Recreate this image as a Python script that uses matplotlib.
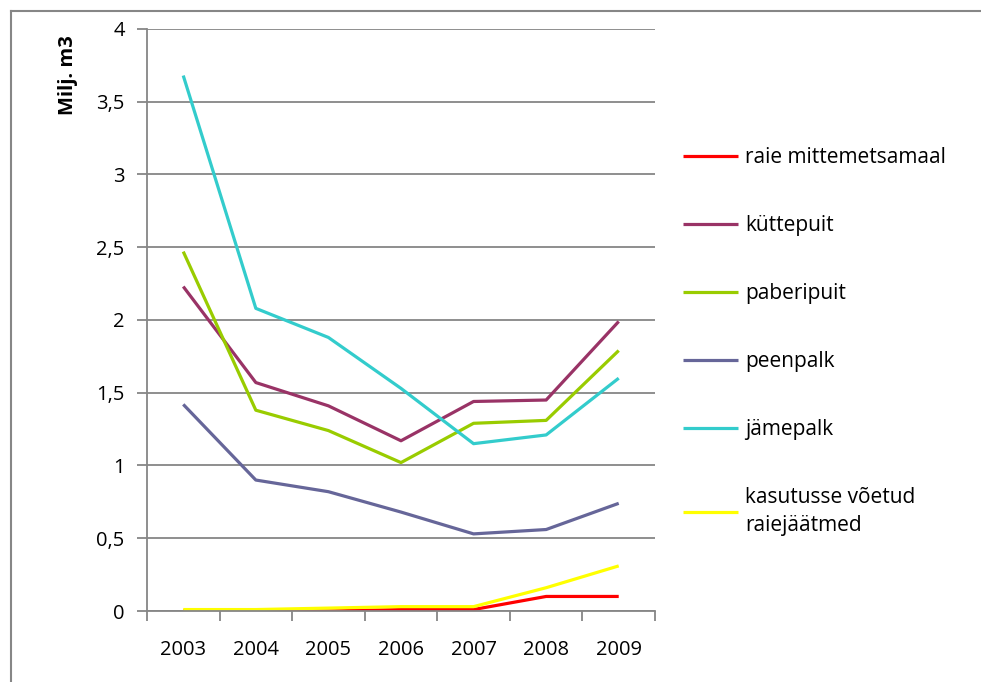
import matplotlib
matplotlib.use("Agg")
import matplotlib.pyplot as plt
from matplotlib.lines import Line2D
import numpy as np

plt.rcParams['font.family'] = ['Open Sans', 'DejaVu Sans']

years = ['2003', '2004', '2005', '2006', '2007', '2008', '2009']
raie = [0.0, 0.0, 0.0, 0.01, 0.01, 0.10, 0.10]
kyttepuit = [2.23, 1.57, 1.41, 1.17, 1.44, 1.45, 1.99]
paberipuit = [2.47, 1.38, 1.24, 1.02, 1.29, 1.31, 1.79]
peenpalk = [1.42, 0.90, 0.82, 0.68, 0.53, 0.56, 0.74]
jamepalk = [3.68, 2.08, 1.88, 1.53, 1.15, 1.21, 1.60]
jaatmed = [0.01, 0.01, 0.02, 0.03, 0.03, 0.16, 0.31]

series = [
    ('raie mittemetsamaal', raie, '#ff0000'),
    ('küttepuit', kyttepuit, '#993366'),
    ('paberipuit', paberipuit, '#99cc00'),
    ('peenpalk', peenpalk, '#666699'),
    ('jämepalk', jamepalk, '#33cccc'),
    ('kasutusse võetud\nraiejäätmed', jaatmed, '#ffff00'),
]

fig = plt.figure(figsize=(9.81, 6.82), dpi=100)
ax = fig.add_axes([0.1498, 0.1041, 0.6677 - 0.1498, 0.9575 - 0.1041])

x = np.arange(len(years))
for name, vals, col in series:
    ax.plot(x, vals, color=col, lw=2.3, label=name, solid_capstyle='butt')

grid_col = '#868686'
ax.set_xlim(-0.5, len(years) - 0.5)
ax.set_ylim(0, 4)
ax.set_yticks(np.arange(0, 4.01, 0.5))
ax.set_yticklabels([('%g' % v).replace('.', ',') for v in np.arange(0, 4.01, 0.5)], fontsize=14.5)
ax.yaxis.grid(True, color=grid_col, lw=1.3)
ax.set_axisbelow(True)

# ticks between categories, labels at the centers
ax.set_xticks(np.arange(-0.5, len(years), 1.0))
ax.set_xticklabels([])
ax.set_xticks(x, minor=True)
ax.set_xticklabels(years, minor=True, fontsize=14.5)
ax.tick_params(axis='x', which='major', length=7, color=grid_col, width=1.3)
ax.tick_params(axis='x', which='minor', length=0, pad=21)
ax.tick_params(axis='y', length=7, color=grid_col, width=1.3, pad=9)

for s in ['top', 'right']:
    ax.spines[s].set_visible(False)
for s in ['left', 'bottom']:
    ax.spines[s].set_color(grid_col)
    ax.spines[s].set_linewidth(1.3)

fig.text(68 / 981, 1 - 75 / 682, 'Milj. m3', rotation=90, fontsize=14.5,
         fontweight='bold', ha='center', va='center')

leg = fig.legend(loc='upper left', bbox_to_anchor=(673 / 981, 1 - 137 / 682),
                 frameon=False, fontsize=15, handlelength=2.6, handletextpad=0.35,
                 labelspacing=2.25, borderpad=0)
for t in leg.get_texts():
    t.set_linespacing(1.45)

# outer chart border
fig.add_artist(Line2D([11 / 981, 11 / 981], [0, 1 - 11 / 682], color=grid_col, lw=1.5))
fig.add_artist(Line2D([11 / 981, 1], [1 - 11 / 682, 1 - 11 / 682], color=grid_col, lw=1.5))

fig.savefig('out.png', dpi=100)
